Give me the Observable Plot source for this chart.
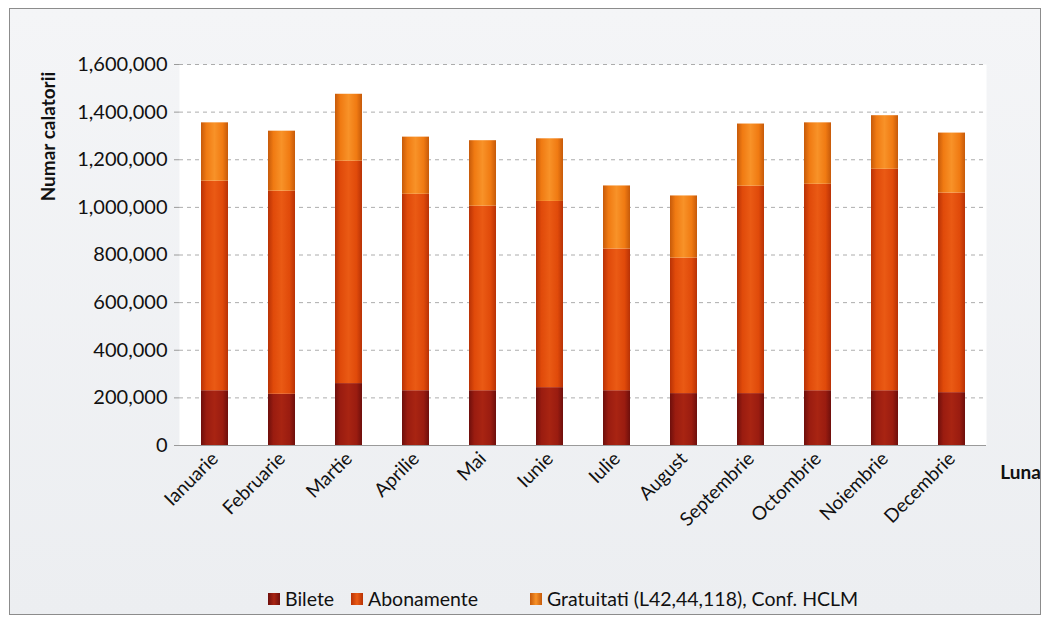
<!DOCTYPE html>
<html>
<head>
<meta charset="utf-8">
<script src="https://cdn.jsdelivr.net/npm/d3@7"></script>
<script src="https://cdn.jsdelivr.net/npm/@observablehq/plot@0.6"></script>
<style>
  html, body { margin: 0; padding: 0; background: #ffffff; }
  #frame {
    position: absolute; left: 9px; top: 8px; width: 1030px; height: 605px;
    border: 1px solid #8c8c8c;
    background: linear-gradient(180deg, #f4f5f7 0%, #eceef1 100%);
    font-family: Lato, "Open Sans", sans-serif;
    overflow: hidden;
  }
  #chart svg { display: block; }
  #legend {
    position: absolute; top: 578px; left: 0; width: 1030px; height: 26px;
    font-size: 19.5px; color: #111;
  }
  .item { position: absolute; top: 0; display: flex; align-items: center; gap: 5px; white-space: nowrap; }
  .sw { width: 12px; height: 12px; display: inline-block; }
</style>
</head>
<body>
<div id="frame">
  <div id="chart"></div>
  <div id="legend"></div>
</div>
<script>
const months = ["Ianuarie","Februarie","Martie","Aprilie","Mai","Iunie","Iulie","August","Septembrie","Octombrie","Noiembrie","Decembrie"];
const seriesNames = ["Bilete", "Abonamente", "Gratuitati (L42,44,118), Conf. HCLM"];
const bilete     = [230000, 215000, 260000, 230000, 230000, 243000, 230000, 218000, 218000, 230000, 230000, 222000];
const abonamente = [880000, 853000, 934000, 825000, 775000, 782000, 595000, 569000, 871000, 867000, 930000, 838000];
const gratuitati = [245000, 252000, 281000, 240000, 275000, 263000, 265000, 261000, 261000, 258000, 225000, 252000];
const yTicks = [0, 200000, 400000, 600000, 800000, 1000000, 1200000, 1400000, 1600000];

const seriesValues = [bilete, abonamente, gratuitati];
const rows = [];
months.forEach((m, i) => {
  seriesNames.forEach((s, k) => rows.push({month: m, series: s, value: seriesValues[k][i]}));
});

const gradIds = ["gBilete", "gAbon", "gGrat"];
const gradStops = [
  ["#6e0f0c", "#9a1c10", "#a82412", "#9a1c10", "#6e0f0c"],
  ["#b83206", "#e04a0a", "#ea5a14", "#e04a0a", "#b83206"],
  ["#c65a0a", "#f07a12", "#f89228", "#f07a12", "#c65a0a"]
];

const fmt = d3.format(",");

const chart = Plot.plot({
  width: 1030,
  height: 572,
  marginLeft: 169,
  marginRight: 54,
  marginTop: 55,
  marginBottom: 136,
  style: {fontFamily: "Lato, 'Open Sans', sans-serif", fontSize: "19px", color: "#111", background: "transparent"},
  x: {domain: months, paddingInner: 0.6, paddingOuter: 0.3, label: null},
  y: {domain: [0, 1600000], ticks: yTicks, label: null},
  color: {domain: seriesNames, range: gradIds.map(id => `url(#${id})`)},
  marks: [
    Plot.frame({fill: "#ffffff", stroke: "none"}),
    Plot.gridY(yTicks.filter(d => d > 0), {stroke: "#8a8a8a", strokeOpacity: 0.7, strokeDasharray: "4,4"}),
    Plot.barY(rows, {x: "month", y: "value", fill: "series", order: seriesNames}),
    Plot.ruleY([0], {stroke: "#9a9a9a"}),
    Plot.ruleX([0], {frameAnchor: "left", stroke: "#9a9a9a"}),
    Plot.axisY({ticks: yTicks, tickFormat: d => fmt(d), tickSize: 5, tickPadding: 7, stroke: "#9a9a9a", fontSize: 20, label: null}),
    Plot.axisX({tickRotate: -45, tickSize: 0, tickPadding: 10, fontSize: 19, label: null}),
    Plot.text(["Numar calatorii"], {frameAnchor: "top-left", dx: -138, dy: 72, rotate: -90, textAnchor: "middle", fontWeight: "bold", fontSize: 19, fill: "#111"}),
    Plot.text(["Luna"], {frameAnchor: "bottom-right", dx: 34, dy: 33, textAnchor: "middle", fontWeight: "bold", fontSize: 19, fill: "#111"})
  ]
});

// gradient defs
const ns = "http://www.w3.org/2000/svg";
const defs = document.createElementNS(ns, "defs");
gradIds.forEach((id, k) => {
  const lg = document.createElementNS(ns, "linearGradient");
  lg.setAttribute("id", id);
  lg.setAttribute("x1", "0"); lg.setAttribute("x2", "1");
  lg.setAttribute("y1", "0"); lg.setAttribute("y2", "0");
  const offs = [0, 0.2, 0.5, 0.8, 1];
  gradStops[k].forEach((c, j) => {
    const st = document.createElementNS(ns, "stop");
    st.setAttribute("offset", offs[j]);
    st.setAttribute("stop-color", c);
    lg.appendChild(st);
  });
  defs.appendChild(lg);
});
chart.insertBefore(defs, chart.firstChild);
document.getElementById("chart").appendChild(chart);

// legend
const legend = document.getElementById("legend");
const swColors = [
  "linear-gradient(90deg,#6e0f0c,#a82412,#6e0f0c)",
  "linear-gradient(90deg,#b83206,#ea5a14,#b83206)",
  "linear-gradient(90deg,#c65a0a,#f89228,#c65a0a)"
];
const legendLeft = [258, 341, 520];
seriesNames.forEach((s, k) => {
  const it = document.createElement("div");
  it.className = "item";
  it.style.left = legendLeft[k] + "px";
  const sw = document.createElement("span");
  sw.className = "sw";
  sw.style.background = swColors[k];
  const tx = document.createElement("span");
  tx.textContent = s;
  it.appendChild(sw); it.appendChild(tx);
  legend.appendChild(it);
});
</script>
</body>
</html>
